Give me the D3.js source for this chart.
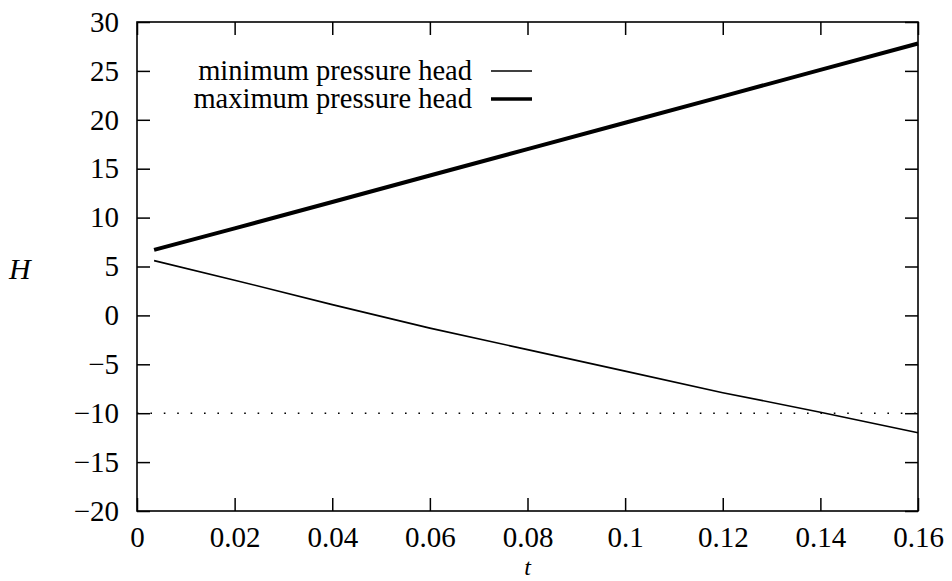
<!DOCTYPE html>
<html>
<head>
<meta charset="utf-8">
<script src="https://cdn.jsdelivr.net/npm/d3@7"></script>
<style>
  body { margin: 0; background: #fff; }
  svg { display: block; font-family: "Liberation Serif", "Times New Roman", serif; }
</style>
</head>
<body>
<svg width="952" height="581"></svg>
<script>
// time values and the two pressure head series
var tValues = [0.0035, 0.02, 0.04, 0.06, 0.08, 0.1, 0.12, 0.14, 0.16]
var minHead = [5.6, 3.6, 1.1, -1.3, -3.5, -5.7, -7.9, -9.9, -12.0]
var maxHead = [6.7, 8.9, 11.6, 14.3, 17.0, 19.7, 22.4, 25.1, 27.8]
var limitHead = -10

var xTicks = [0, 0.02, 0.04, 0.06, 0.08, 0.1, 0.12, 0.14, 0.16]
var xTickLabels = ["0", "0.02", "0.04", "0.06", "0.08", "0.1", "0.12", "0.14", "0.16"]
var yTicks = [-20, -15, -10, -5, 0, 5, 10, 15, 20, 25, 30]
var yTickLabels = ["\u221220", "\u221215", "\u221210", "\u22125", "0", "5", "10", "15", "20", "25", "30"]

var legendNames = ["minimum pressure head", "maximum pressure head"]

var svg = d3.select("svg"),
    margin = {top: 22, right: 34, bottom: 70, left: 137},
    width = +svg.attr("width") - margin.left - margin.right,
    height = +svg.attr("height") - margin.top - margin.bottom,
    g = svg.append("g").attr("transform", "translate(" + margin.left + "," + margin.top + ")");

var x = d3.scaleLinear().domain([0, 0.16]).range([0, width])
var y = d3.scaleLinear().domain([-20, 30]).range([height, 0])

var xLabel = function(d) { return xTickLabels[xTicks.indexOf(d)] }
var yLabel = function(d) { return yTickLabels[yTicks.indexOf(d)] }

// axes, ticks pointing inward on all four sides
var axes = [
  {axis: d3.axisBottom(x).tickValues(xTicks).tickSize(-13).tickPadding(15).tickFormat(xLabel), at: [0, height]},
  {axis: d3.axisTop(x).tickValues(xTicks).tickSize(-13).tickFormat(""), at: [0, 0]},
  {axis: d3.axisLeft(y).tickValues(yTicks).tickSize(-13).tickPadding(18).tickFormat(yLabel), at: [0, 0]},
  {axis: d3.axisRight(y).tickValues(yTicks).tickSize(-13).tickFormat(""), at: [width, 0]}
]
axes.forEach(function(a) {
  var ax = g.append("g")
      .attr("transform", "translate(" + a.at[0] + "," + a.at[1] + ")")
      .call(a.axis)
  ax.select(".domain").remove()
  ax.selectAll(".tick line").attr("stroke", "#000").attr("stroke-width", 1.5)
  ax.selectAll(".tick text")
      .attr("fill", "#000")
      .attr("font-size", 29)
      .attr("font-family", "Liberation Serif, serif")
})

g.append("rect")
    .attr("width", width)
    .attr("height", height)
    .attr("fill", "none")
    .attr("stroke", "#000")
    .attr("stroke-width", 1.6)

// dotted line at H = -10
g.append("line")
    .attr("x1", x(0))
    .attr("x2", x(0.16))
    .attr("y1", y(limitHead))
    .attr("y2", y(limitHead))
    .attr("stroke", "#000")
    .attr("stroke-width", 1.6)
    .attr("stroke-dasharray", "1.6,11.8")

var line = function(vals) {
  return d3.line()
      .x(function(d, i) { return x(tValues[i]) })
      .y(function(d) { return y(d) })(vals)
}

g.append("path")
    .attr("d", line(minHead))
    .attr("fill", "none")
    .attr("stroke", "#000")
    .attr("stroke-width", 1.6)

g.append("path")
    .attr("d", line(maxHead))
    .attr("fill", "none")
    .attr("stroke", "#000")
    .attr("stroke-width", 4)

// legend
var legend = g.append("g")
    .attr("font-size", 28.5)
    .attr("text-anchor", "end")
  .selectAll("g")
  .data(legendNames)
  .enter().append("g")
    .attr("transform", function(d, i) { return "translate(0," + (49 + i * 28) + ")" })

legend.append("text")
    .attr("x", 335)
    .attr("dy", "0.32em")
    .attr("fill", "#000")
    .text(function(d) { return d })

legend.append("line")
    .attr("x1", 354)
    .attr("x2", 395)
    .attr("stroke", "#000")
    .attr("stroke-width", function(d, i) { return i ? 3.5 : 1.4 })

// axis titles
svg.append("text")
    .attr("x", margin.left + x(0.08))
    .attr("y", 574.5)
    .attr("text-anchor", "middle")
    .attr("font-size", 24)
    .attr("font-style", "italic")
    .text("t")

svg.append("text")
    .attr("x", 9)
    .attr("y", 279)
    .attr("font-size", 30)
    .attr("font-style", "italic")
    .text("H")
</script>
</body>
</html>
